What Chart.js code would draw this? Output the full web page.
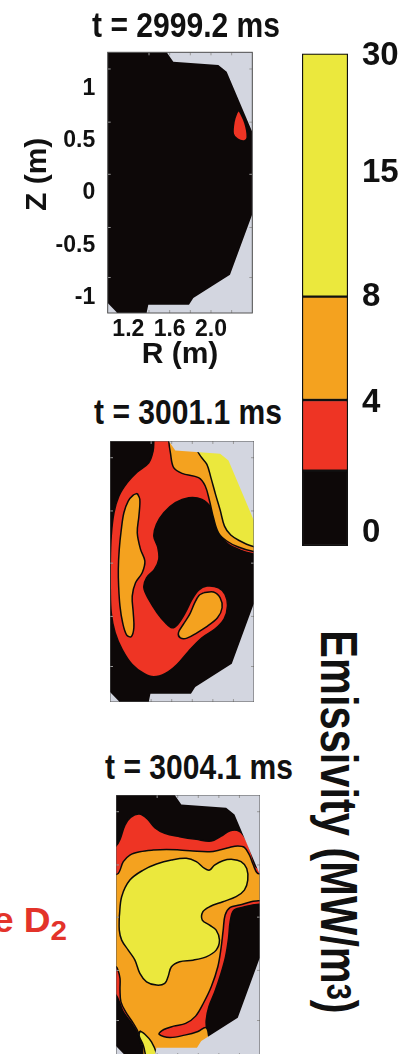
<!DOCTYPE html>
<html><head><meta charset="utf-8">
<script src="https://cdn.jsdelivr.net/npm/chart.js"></script>
<style>
html,body{margin:0;padding:0;width:408px;height:1054px;overflow:hidden;background:#fff;}
canvas{position:absolute;}
.txt{position:absolute;left:0;top:0;white-space:nowrap;font-family:'Liberation Sans',Arial,sans-serif;font-weight:bold;color:#111;line-height:1;transform-origin:center center;}
</style></head><body>
<canvas id="c1" width="262" height="380" style="left:0;top:0"></canvas>
<canvas id="c2" width="144" height="261" style="left:110px;top:441px"></canvas>
<canvas id="c3" width="144" height="261" style="left:116px;top:795px"></canvas>
<canvas id="cb" width="112" height="600" style="left:296px;top:0"></canvas>
<div id="t1" class="txt" style="font-size:35px">t = 2999.2 ms</div>
<div id="t2" class="txt" style="font-size:35px">t = 3001.1 ms</div>
<div id="t3" class="txt" style="font-size:35px">t = 3004.1 ms</div>
<div id="emis" class="txt" style="font-size:51px">Emissivity (MW/m<span style="font-size:0.7em;vertical-align:0.17em;line-height:0">3</span>)</div>
<div id="ed2" class="txt" style="font-size:35px;color:#e3332a">e D<span style="font-size:28px;vertical-align:-8px;line-height:0">2</span></div>
<script>
// ---------- axes ----------
const R_RANGE = [1.0, 2.4];
const Z_RANGE = [-1.15, 1.35];
const zTicks = [-1, -0.5, 0, 0.5, 1];
const zTickLabels = ['-1', '-0.5', '0', '0.5', '1'];
const rTicks = [1.2, 1.6, 2.0];
const rTickLabels = ['1.2', '1.6', '2.0'];
const frameTickR = [1.4, 1.6, 1.8, 2.0, 2.2];
const frameTickZ = [1.19, 0.68, 0.18, -0.33, -0.81];

// ---------- colour bar ----------
const cbarSegments = [0.153, 0.1435, 0.2097, 0.4938]; // black, red, orange, yellow (bottom to top)
const cbarTickPos = [0.026, 0.29, 0.5056, 0.757, 0.995];
const cbarTickLabels = ['0', '4', '8', '15', '30'];

// ---------- region outside the vessel (R, Z) ----------
const outsideRight = [[1.571,1.40],[2.46,1.40],[2.46,-1.20],[1.378,-1.20],[1.378,-1.144],[1.393,-1.07],[1.787,-1.07],[1.829,-1.006],[2.184,-0.783],[2.398,-0.208],[2.398,0.59],[2.371,0.654],[2.152,1.164],[2.071,1.228],[1.635,1.26],[1.571,1.35]];
const outsideLeft = [[0.95,-1.054],[1.0,-1.054],[1.087,-1.144],[1.087,-1.20],[0.95,-1.20]];

// ---------- t = 2999.2 ms ----------
const p1Red = [[2.271,0.797],[2.329,0.67],[2.351,0.536],[2.322,0.50],[2.258,0.517],[2.216,0.567],[2.223,0.685],[2.249,0.766]];

// ---------- t = 3001.1 ms ----------
const p2Red = [[1.426,1.40],[1.426,1.35],[1.419,1.254],[1.377,1.142],[1.265,1.053],[1.168,0.951],[1.087,0.823],[1.039,0.663],[1.012,0.439],[1.003,0.184],[1.003,-0.072],[1.012,-0.295],[1.05,-0.487],[1.119,-0.647],[1.216,-0.791],[1.329,-0.877],[1.426,-0.909],[1.539,-0.877],[1.652,-0.791],[1.765,-0.663],[1.894,-0.535],[2.023,-0.449],[2.11,-0.353],[2.142,-0.231],[2.119,-0.12],[2.055,-0.056],[1.942,-0.04],[1.861,-0.078],[1.797,-0.168],[1.732,-0.295],[1.658,-0.407],[1.603,-0.439],[1.539,-0.391],[1.458,-0.295],[1.377,-0.168],[1.329,-0.056],[1.355,0.04],[1.432,0.12],[1.474,0.216],[1.465,0.328],[1.426,0.439],[1.452,0.551],[1.523,0.663],[1.635,0.759],[1.765,0.807],[1.894,0.791],[1.981,0.711],[2.032,0.567],[2.077,0.439],[2.152,0.359],[2.265,0.305],[2.377,0.273],[2.44,0.273],[2.44,1.40]];
const p2OrangeBand = [[1.571,1.40],[1.571,1.35],[1.587,1.238],[1.619,1.094],[1.70,1.04],[1.861,0.999],[1.926,0.919],[1.968,0.775],[2.006,0.615],[2.055,0.471],[2.135,0.392],[2.248,0.334],[2.377,0.296],[2.44,0.296],[2.44,1.40]];
const p2OrangeLeft = [[1.265,0.848],[1.29,0.791],[1.281,0.631],[1.265,0.471],[1.297,0.312],[1.339,0.2],[1.313,0.088],[1.248,-0.008],[1.216,-0.136],[1.226,-0.295],[1.232,-0.439],[1.206,-0.525],[1.161,-0.506],[1.123,-0.391],[1.097,-0.231],[1.084,-0.04],[1.081,0.12],[1.09,0.312],[1.11,0.503],[1.135,0.663],[1.177,0.775],[1.226,0.832]];
const p2OrangeLow = [[1.91,-0.104],[2.006,-0.097],[2.071,-0.152],[2.09,-0.247],[2.045,-0.343],[1.948,-0.423],[1.845,-0.487],[1.748,-0.538],[1.684,-0.535],[1.665,-0.487],[1.71,-0.41],[1.774,-0.311],[1.823,-0.2],[1.865,-0.129]];
const p2Yellow = [[1.845,1.40],[1.845,1.27],[1.884,1.20],[1.942,1.126],[1.981,0.999],[2.026,0.839],[2.071,0.689],[2.113,0.535],[2.174,0.449],[2.265,0.392],[2.377,0.344],[2.44,0.344],[2.44,1.40]];

// ---------- t = 3004.1 ms ----------
const p3Red = [[0.97,0.861],[1.0,0.861],[1.039,0.925],[1.087,1.062],[1.142,1.136],[1.226,1.168],[1.303,1.123],[1.377,1.037],[1.474,0.983],[1.619,0.951],[1.781,0.925],[1.926,0.909],[2.023,0.957],[2.11,1.008],[2.20,1.002],[2.265,0.925],[2.313,0.807],[2.361,0.663],[2.44,0.631],[2.44,0.328],[2.329,0.296],[2.226,0.273],[2.142,0.241],[2.11,0.136],[2.094,-0.024],[2.065,-0.2],[2.016,-0.375],[1.961,-0.535],[1.903,-0.679],[1.877,-0.807],[1.884,-0.902],[1.91,-0.957],[1.974,-1.20],[1.28,-1.20],[1.245,-1.05],[1.208,-0.93],[1.15,-0.835],[1.071,-0.727],[1.032,-0.631],[1.0,-0.567],[0.97,-0.567]];
const p3Orange = [[0.97,0.583],[1.023,0.599],[1.071,0.711],[1.135,0.775],[1.232,0.807],[1.361,0.823],[1.49,0.829],[1.619,0.823],[1.748,0.813],[1.91,0.807],[2.006,0.823],[2.103,0.848],[2.184,0.861],[2.248,0.848],[2.297,0.775],[2.335,0.679],[2.377,0.599],[2.44,0.599],[2.44,0.36],[2.313,0.328],[2.20,0.296],[2.11,0.273],[2.061,0.20],[2.042,0.056],[2.023,-0.104],[1.99,-0.295],[1.926,-0.487],[1.852,-0.64],[1.774,-0.768],[1.677,-0.838],[1.561,-0.864],[1.465,-0.896],[1.419,-0.941],[1.523,-0.973],[1.668,-0.95],[1.797,-0.915],[1.871,-0.877],[1.897,-0.934],[1.91,-1.20],[1.29,-1.20],[1.255,-1.05],[1.22,-0.93],[1.17,-0.84],[1.094,-0.727],[1.048,-0.631],[1.039,-0.519],[1.039,-0.407],[1.019,-0.327],[1.0,-0.295],[0.97,-0.295]];
const p3Yellow = [[1.032,0.184],[1.055,0.376],[1.135,0.535],[1.265,0.631],[1.394,0.689],[1.539,0.727],[1.684,0.743],[1.781,0.711],[1.861,0.647],[1.91,0.631],[1.958,0.679],[2.039,0.721],[2.135,0.733],[2.216,0.711],[2.271,0.647],[2.281,0.535],[2.248,0.439],[2.168,0.376],[2.039,0.328],[1.91,0.28],[1.845,0.232],[1.839,0.152],[1.91,0.104],[1.974,0.056],[2.006,-0.04],[1.974,-0.136],[1.877,-0.2],[1.748,-0.232],[1.619,-0.247],[1.539,-0.295],[1.506,-0.391],[1.474,-0.455],[1.394,-0.471],[1.297,-0.439],[1.232,-0.359],[1.184,-0.231],[1.119,-0.136],[1.055,-0.04],[1.032,0.056]];
const p3YellowSliver = [[1.232,-0.909],[1.281,-0.941],[1.345,-1.014],[1.394,-1.126],[1.40,-1.20],[1.313,-1.20],[1.265,-1.046],[1.226,-0.96]];

// ---------- styles ----------
const COL = {black:'#0d0808', red:'#ee3424', orange:'#f4a21f', yellow:'#ebe83d', outside:'#d3d6e0', line:'#0a0a0a', frame:'#555'};
const SANS = "'Liberation Sans', Arial, sans-serif";

function poly(pts, color, order, smooth) {
  const data = pts.map(p => ({x: p[0], y: p[1]}));
  data.push({x: pts[0][0], y: pts[0][1]});
  return {data, showLine: true, fill: 'shape', backgroundColor: color,
    borderColor: smooth ? COL.line : 'rgba(0,0,0,0)', borderWidth: smooth ? 1.5 : 1,
    pointRadius: 0, tension: smooth ? 0.35 : 0, order, clip: 0};
}
function outside() {
  return [poly(outsideRight, COL.outside, 0, false), poly(outsideLeft, COL.outside, 0, false)];
}

const panelPlugin = {
  id: 'panel',
  beforeDraw(chart) {
    const {ctx, chartArea: a} = chart;
    ctx.save(); ctx.fillStyle = COL.black;
    ctx.fillRect(a.left, a.top, a.right - a.left, a.bottom - a.top); ctx.restore();
  },
  afterDatasetsDraw(chart) {
    const {ctx, chartArea: a, scales} = chart;
    ctx.save();
    ctx.strokeStyle = '#9a9a9a'; ctx.lineWidth = 1;
    ctx.beginPath();
    frameTickR.forEach(r => { const x = scales.x.getPixelForValue(r);
      ctx.moveTo(x, a.bottom); ctx.lineTo(x, a.bottom - 3); ctx.moveTo(x, a.top); ctx.lineTo(x, a.top + 3); });
    frameTickZ.forEach(z => { const y = scales.y.getPixelForValue(z);
      ctx.moveTo(a.left, y); ctx.lineTo(a.left + 3, y); ctx.moveTo(a.right, y); ctx.lineTo(a.right - 3, y); });
    ctx.stroke();
    ctx.strokeStyle = COL.frame; ctx.lineWidth = 1;
    ctx.strokeRect(a.left, a.top, a.right - a.left, a.bottom - a.top);
    ctx.restore();
  }
};

function panel(id, datasets, withAxes) {
  const x = {type: 'linear', min: R_RANGE[0], max: R_RANGE[1], display: withAxes};
  const y = {type: 'linear', min: Z_RANGE[0], max: Z_RANGE[1], display: withAxes};
  if (withAxes) {
    Object.assign(x, {
      afterBuildTicks: s => { s.ticks = rTicks.map(v => ({value: v})); },
      afterFit: s => { s.height = 67; },
      grid: {display: false, drawTicks: false}, border: {display: false},
      ticks: {callback: (v, i) => rTickLabels[i], font: {family: SANS, size: 23, weight: 'bold'}, color: '#111', padding: 2.5, maxRotation: 0, autoSkip: false},
      title: {display: true, text: 'R (m)', font: {family: SANS, size: 30, weight: 'bold'}, color: '#111', padding: {top: 0, bottom: 7}}
    });
    Object.assign(y, {
      afterBuildTicks: s => { s.ticks = zTicks.map(v => ({value: v})); },
      afterFit: s => { s.width = 107.7; },
      grid: {display: false, drawTicks: false}, border: {display: false},
      ticks: {callback: (v, i) => zTickLabels[i], font: {family: SANS, size: 23, weight: 'bold'}, color: '#111', padding: 12.5, autoSkip: false},
      title: {display: true, text: '  Z (m)', font: {family: SANS, size: 30, weight: 'bold'}, color: '#111', padding: {top: 20, bottom: 0}}
    });
  }
  new Chart(document.getElementById(id), {
    type: 'scatter',
    data: {datasets},
    options: {
      responsive: false, animation: false, events: [],
      layout: {padding: withAxes ? {top: 52.3, right: 9.7, left: 0, bottom: 0} : 0},
      plugins: {legend: {display: false}, tooltip: {enabled: false}},
      scales: {x, y}
    },
    plugins: [panelPlugin]
  });
}

panel('c1', [...outside(), poly(p1Red, COL.red, 3, true)], true);
panel('c2', [...outside(),
  poly(p2Yellow, COL.yellow, 1, true),
  poly(p2OrangeBand, COL.orange, 2, true), poly(p2OrangeLeft, COL.orange, 2, true), poly(p2OrangeLow, COL.orange, 2, true),
  poly(p2Red, COL.red, 3, true)], false);
panel('c3', [...outside(),
  poly(p3Yellow, COL.yellow, 1, true), poly(p3YellowSliver, COL.yellow, 1, true),
  poly(p3Orange, COL.orange, 2, true),
  poly(p3Red, COL.red, 3, true)], false);

// colour bar
const cbarColors = [COL.black, COL.red, COL.orange, COL.yellow];
new Chart(document.getElementById('cb'), {
  type: 'bar',
  data: {labels: [''], datasets: cbarSegments.map((v, i) => ({data: [v], backgroundColor: cbarColors[i], borderColor: '#111', borderWidth: 1.5, borderSkipped: false, barPercentage: 1, categoryPercentage: 1}))},
  options: {
    responsive: false, animation: false, events: [],
    layout: {padding: {left: 6, top: 53.5, bottom: 54, right: 0}},
    plugins: {legend: {display: false}, tooltip: {enabled: false}},
    scales: {
      x: {stacked: true, display: false},
      y: {stacked: true, position: 'right', min: 0, max: 1,
        afterBuildTicks: s => { s.ticks = cbarTickPos.map(v => ({value: v})); },
        afterFit: s => { s.width = 60; },
        grid: {display: false, drawTicks: false}, border: {display: false},
        ticks: {callback: (v, i) => cbarTickLabels[i], font: {family: SANS, size: 33, weight: 'bold'}, color: '#111', padding: 14, autoSkip: false}}
    }
  }
});

// text placement
function fitText(id, cx, cy, targetW, rot) {
  const el = document.getElementById(id);
  const sx = targetW / el.offsetWidth;
  el.style.left = cx + 'px'; el.style.top = cy + 'px';
  el.style.transform = 'translate(-50%,-50%) rotate(' + (rot || 0) + 'deg) scale(' + sx + ',1)';
}
fitText('t1', 186, 24.2, 188);
fitText('t2', 187.5, 410.5, 188);
fitText('t3', 199, 766, 188);
fitText('emis', 338.3, 821.5, 383, 90);
fitText('ed2', 29.6, 919.2, 74.2);
</script>
</body></html>
